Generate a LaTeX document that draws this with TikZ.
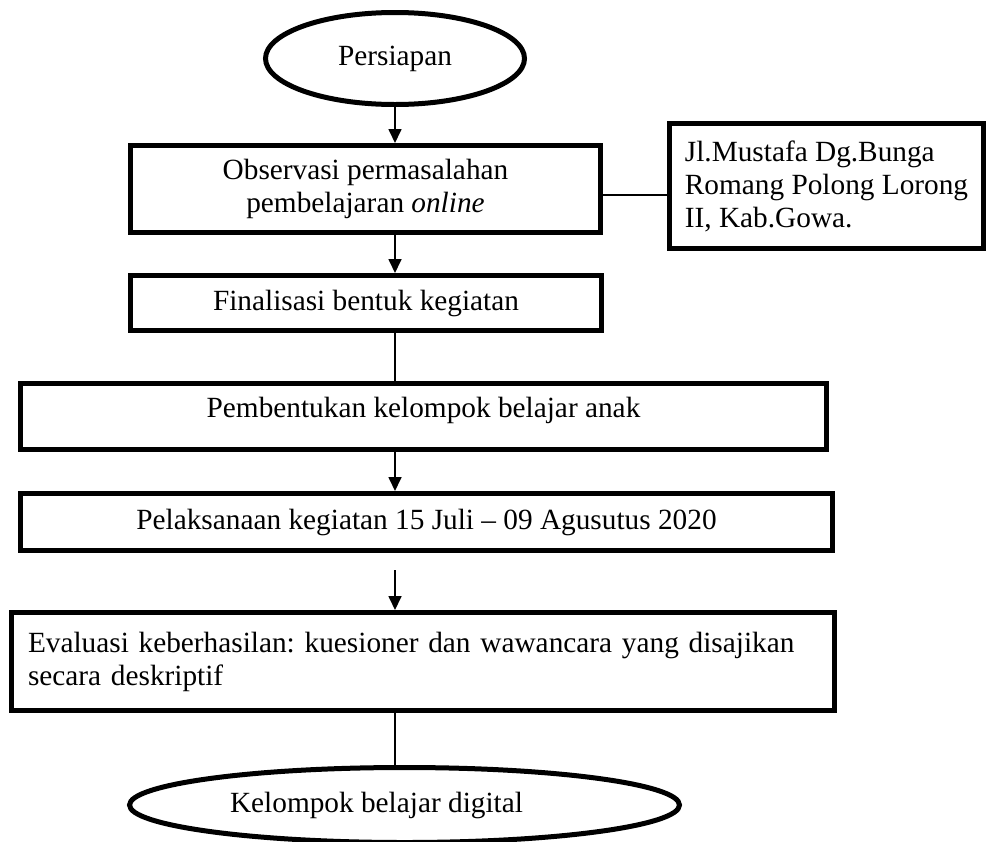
\documentclass[tikz,border=0pt]{standalone}
\usepackage{fontspec}
\setmainfont{Liberation Serif}
\usetikzlibrary{shapes.geometric, arrows.meta}

\begin{document}
\begin{tikzpicture}[
    x=1pt, y=-1pt,
    startstop/.style = {ellipse, draw, line width=5pt, inner sep=0pt, font=\fontsize{29.3pt}{33pt}\selectfont\frenchspacing},
    process/.style = {rectangle, draw, line width=5pt, align=center, inner sep=0pt, font=\fontsize{29.3pt}{33pt}\selectfont\frenchspacing},
    link/.style = {line width=1.7pt},
    >={Triangle[width=13pt, length=14pt]}]

    \clip (0,0) rectangle (992,841);

    \node[startstop, minimum width=259pt, minimum height=92pt] (start) at (395,58.5) {Persiapan};
    \node[process, minimum width=470pt, minimum height=87pt] (obs) at (365.5,189) {Observasi permasalahan\\pembelajaran \textit{online}};
    \node[process, align=left, minimum width=314pt, minimum height=125pt] (addr) at (826.5,186) {Jl.Mustafa Dg.Bunga\\Romang Polong Lorong\\II, Kab.Gowa.};
    \node[process, minimum width=471pt, minimum height=55pt] (final) at (366,303) {Finalisasi bentuk kegiatan};
    \node[process, minimum width=806pt, minimum height=66pt, text depth=18pt] (group) at (423.5,416.5) {Pembentukan kelompok belajar anak};
    \node[process, minimum width=812pt, minimum height=57pt] (exec) at (426.5,522) {Pelaksanaan kegiatan 15 Juli – 09 Agusutus 2020};
    \node[process, align=left, text width=790pt, minimum width=823pt, minimum height=98pt] (eval) at (423,661.5) {Evaluasi keberhasilan: kuesioner dan wawancara yang disajikan\\secara deskriptif};
    \node[startstop, minimum width=550pt, minimum height=75pt] (finish) at (404.5,805) {Kelompok belajar digital\hspace*{56pt}};

    \draw[link, ->] (start) -- (start |- obs.north);
    \draw[link, ->] (obs.south -| start) -- (final.north -| start);
    \draw[link] ([yshift=-6pt]obs.east) -- ([yshift=-6pt]obs.east -| addr.west);
    \draw[link] (final.south -| start) -- (group.north -| start);
    \draw[link, ->] (group.south -| start) -- (exec.north -| start);
    \draw[link, ->, shorten <=17pt] (exec.south -| start) -- (eval.north -| start);
    \draw[link] (eval.south -| start) -- (start |- finish.north);

\end{tikzpicture}
\end{document}
